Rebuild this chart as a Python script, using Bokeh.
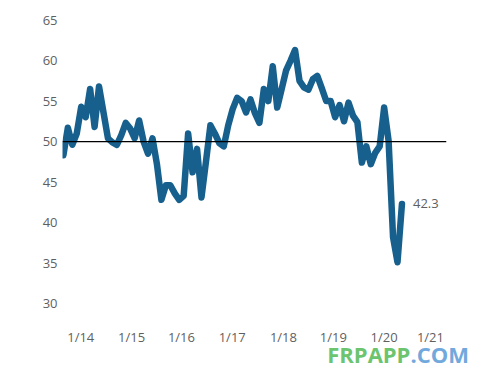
from bokeh.plotting import figure
from bokeh.models import Range1d, FixedTicker, Span, Label, ColumnDataSource, Div
from bokeh.layouts import column
from bokeh.embed import file_html
from bokeh.resources import INLINE

# Monthly index, Jan 2014 .. May 2020
values = [
    48.3, 51.7, 49.6, 51.0, 54.3, 53.0, 56.5, 51.8, 56.8, 53.6, 50.4, 49.9,   # 2014
    49.6, 50.8, 52.3, 51.6, 50.4, 52.6, 50.0, 48.5, 50.4, 47.2, 42.8, 44.6,   # 2015
    44.6, 43.6, 42.8, 43.3, 51.0, 46.2, 49.1, 43.1, 47.5, 52.0, 51.0, 49.8,   # 2016
    49.4, 52.0, 54.0, 55.4, 55.0, 53.6, 55.2, 53.5, 52.3, 56.5, 55.0, 59.3,   # 2017
    54.2, 56.5, 58.8, 60.0, 61.3, 57.5, 56.7, 56.4, 57.7, 58.1, 56.6, 55.0,   # 2018
    55.0, 53.0, 54.5, 52.5, 54.8, 53.2, 52.4, 47.4, 49.4, 47.2, 48.6, 49.4,   # 2019
    54.2, 50.1, 38.2, 35.1, 42.3,                                             # 2020
]
months = list(range(len(values)))

tick_labels = ["1/14", "1/15", "1/16", "1/17", "1/18", "1/19", "1/20", "1/21"]
tick_months = [3.9, 15.3, 26.5, 37.9, 49.4, 60.6, 72.0, 82.4]
y_ticks = [30, 35, 40, 45, 50, 55, 60, 65]
threshold = 50
watermark = ("FRPAPP", ".COM")

FONT = "Open Sans"
GRAY = "#5f5f5f"
LINE = "#17608d"

p = figure(width=494, height=348, output_backend="svg", toolbar_location=None,
           x_range=Range1d(-0.2, 86), y_range=Range1d(27.9, 66.8),
           min_border_left=62, min_border_right=48, min_border_top=5,
           min_border_bottom=26)
p.outline_line_color = None
p.xgrid.visible = False
p.ygrid.visible = False
p.background_fill_color = "white"
p.border_fill_color = "white"

for ax in (p.xaxis[0], p.yaxis[0]):
    ax.axis_line_color = None
    ax.major_tick_line_color = None
    ax.minor_tick_line_color = None
    ax.major_tick_out = 0
    ax.major_tick_in = 0
    ax.major_label_text_font = FONT
    ax.major_label_text_font_size = "13px"
    ax.major_label_text_color = GRAY

p.xaxis.ticker = FixedTicker(ticks=tick_months)
p.xaxis.major_label_overrides = {t: l for t, l in zip(tick_months, tick_labels)}
p.xaxis.major_label_standoff = 7
p.yaxis.ticker = FixedTicker(ticks=y_ticks)
p.yaxis.major_label_standoff = 5

p.add_layout(Span(location=threshold, dimension="width", line_color="black",
                  line_width=1.2))

src = ColumnDataSource(dict(x=months, y=values))
p.line("x", "y", source=src, line_color=LINE, line_width=6.5,
       line_join="round", line_cap="round")

last_x, last_y = months[-1], values[-1]
p.add_layout(Label(x=last_x, y=last_y, text=f"{last_y:.1f}", x_offset=11,
                   text_baseline="middle", text_font=FONT,
                   text_font_size="13px", text_color=GRAY))

wm = Div(
    text=('<div style="position:relative; top:-10px; text-align:right; '
          'padding-right:30px; letter-spacing:0px; width:494px; '
          'box-sizing:border-box;">'
          f'<span style="color:#6cc46f">{watermark[0]}</span>'
          f'<span style="color:#72a9dd">{watermark[1]}</span></div>'),
    width=494, height=29,
    styles={"font-family": "Open Sans", "font-weight": "bold",
            "font-size": "22px", "line-height": "22px"},
)

layout = column(p, wm, spacing=0)
open("out.html", "w").write(file_html(layout, INLINE))
